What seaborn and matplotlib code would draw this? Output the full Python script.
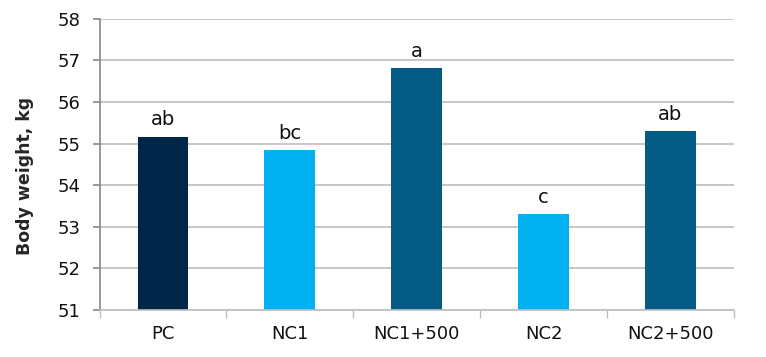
import matplotlib
matplotlib.use("Agg")
import matplotlib.pyplot as plt
import seaborn as sns
import pandas as pd

categories = ["PC", "NC1", "NC1+500", "NC2", "NC2+500"]
values = [55.17, 54.85, 56.82, 53.30, 55.30]
letters = ["ab", "bc", "a", "c", "ab"]
colors = ["#002747", "#00B0F0", "#045B86", "#00B0F0", "#045B86"]

sns.set_theme(style="white")
plt.rcParams['font.family'] = ['DejaVu Sans']

df = pd.DataFrame({"group": categories, "bw": values})

fig = plt.figure(figsize=(7.66, 3.57), dpi=100)
ax = fig.add_axes([0.130, 0.132, 0.828, 0.815])

sns.barplot(data=df, x="group", y="bw", hue="group", palette=colors,
            legend=False, width=0.4, ax=ax, saturation=1, edgecolor="none")

ax.set_ylim(51, 58)
ax.set_yticks(range(51, 59))
ax.set_xlim(-0.5, 4.5)
ax.yaxis.grid(True, color="#BEBEBE", linewidth=1.2)
ax.set_axisbelow(True)

for s in ["top", "right"]:
    ax.spines[s].set_visible(False)
ax.spines["left"].set_color("#8C8C8C")
ax.spines["bottom"].set_color("#BEBEBE")
ax.spines["bottom"].set_linewidth(1.2)

for i, (v, t) in enumerate(zip(values, letters)):
    ax.text(i, v + 0.17, t, ha="center", va="bottom", fontsize=14, color="#111111")

ax.set_xticks([x + 0.5 for x in range(-1, 5)], minor=True)
ax.tick_params(axis="x", which="minor", direction="out", length=6, color="#BEBEBE", width=1, bottom=True)
ax.tick_params(axis="x", which="major", length=0, labelsize=13, pad=11, labelcolor="#111111")
ax.tick_params(axis="y", direction="out", length=5, color="#8C8C8C", labelsize=13, left=True, pad=9, labelcolor="#111111")

ax.set_xlabel("")
ax.set_ylabel("Body weight, kg", fontsize=12.5, fontweight="bold")
ax.yaxis.set_label_coords(-0.104, 0.46)

fig.savefig("out.png", dpi=100)
